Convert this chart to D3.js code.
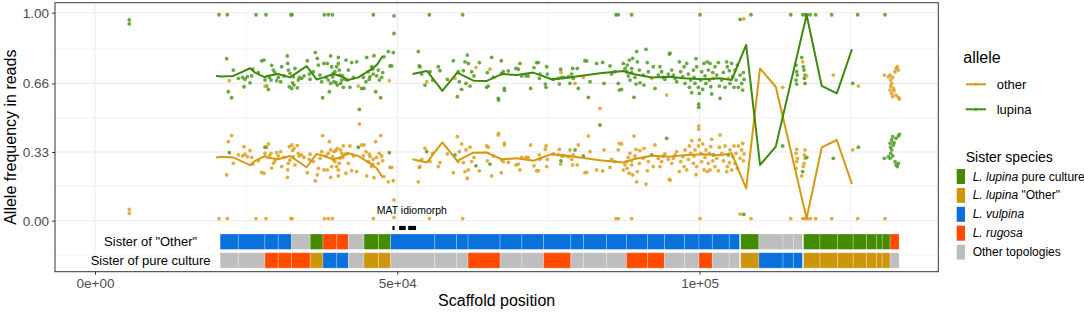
<!DOCTYPE html>
<html>
<head>
<meta charset="utf-8">
<script src="https://cdn.jsdelivr.net/npm/d3@7"></script>
<style>
  body { margin: 0; background: #fff; }
  svg text { font-family: "Liberation Sans", Arial, sans-serif; }
</style>
</head>
<body>
<div id="chart"></div>
<script>
// sites: [scaffold position, frequency of lupina allele]; "other" = 1 - lupina
const sites = [
  [5670,0.965],[5670,0.946],
  [20510,0.99],[21890,0.99],[26630,0.99],[28280,0.99],[32420,0.99],[32580,0.99],[37930,0.99],[38590,0.99],
  [39250,0.99],[46030,0.99],[49450,0.985],[55300,0.99],[60810,0.99],[86170,0.99],[86550,0.99],[88760,0.99],
  [100070,0.99],[108500,0.99],[115070,0.99],[117050,0.99],[117440,0.99],[117800,0.99],[118300,0.99],
  [119200,0.99],[121850,0.99],[126150,0.99],[130670,0.99],
  [49450,0.90],[106700,0.968],[107300,0.03],
  [21780,.779],[22880,.724],[22220,.327],[22050,.620],[22600,.591],[23710,.684],[24420,.689],[24640,.644],
  [25640,.663],[25910,.696],[26080,.728],[27570,.768],[27950,.772],[28120,.676],[28390,.647],[28670,.631],
  [28120,.353],[29220,.747],[29490,.724],[29770,.712],[30870,.740],[30710,.668],[31810,.792],[31870,.756],
  [31980,.724],[32250,.708],[32140,.644],[32530,.636],[32800,.692],[33080,.732],[33460,.639],[33630,.676],
  [34180,.684],[35120,.769],[35450,.705],[36440,.809],[36770,.780],[36940,.748],[37210,.700],[37490,.668],
  [37650,.591],[37870,.756],[38430,.756],[38760,.620],[38980,.792],[39140,.740],[39310,.692],[39530,.668],
  [39690,.716],[39970,.740],[40250,.785],[40250,.756],[40410,.724],[40520,.700],[40800,.676],[41070,.641],
  [41510,.772],[41900,.724],[42170,.641],[42450,.760],[43280,.764],[43550,.353],[44100,.636],[44490,.636],
  [43720,.535],[44930,.785],[45210,.716],[45480,.692],[45760,.740],[46030,.705],[46140,.793],[46420,.620],
  [46860,.724],[47250,.591],[47580,.712],[47800,.788],[48510,.813],[48790,.744],[49070,.744],[49340,.808],
  [48680,.327],
  [24810,.680],[25190,.692],[27010,.712],[28830,.689],[29110,.676],[30050,.673],[30320,.689],[31260,.696],
  [32690,.663],[32910,.652],[33800,.689],[34570,.696],[35560,.680],[36110,.716],[38210,.689],[38590,.676],
  [38980,.660],[39420,.708],[39860,.663],[40080,.652],[40630,.660],[40960,.696],[41350,.680],[41730,.676],
  [42730,.689],[44380,.689],[44820,.668],[45370,.680],[45920,.728],[46590,.696],[47030,.676],[47410,.689],
  [53470,.813],[53640,.744],[53750,.740],[54030,.705],[54580,.652],[55410,.716],[55850,.676],[56780,.740],
  [54860,.332],
  [57060,.721],[58270,.679],[59270,.769],[59540,.316],[59930,.596],[60090,.716],[60260,.668],[60640,.631],
  [60920,.721],[61190,.764],[61360,.660],[61580,.796],[61750,.756],[62020,.647],[62300,.716],[62680,.696],
  [63010,.264],[63570,.760],[64780,.641],[65050,.647],[64890,.712],[65330,.272],[65610,.785],[65880,.689],
  [66710,.588],[66750,.580],[67200,.769],[67260,.708],[67530,.716],[67700,.636],[67720,.627],[68360,.720],
  [69630,.732],[70010,.728],[70290,.756],[70570,.696],[71280,.696],[71670,.696],[72050,.636],[72610,.736],
  [73050,.760],[73320,.760],[73490,.684],[73600,.705],[74700,.740],[74810,.705],[74480,.657],[74590,.641],
  [75800,.679],[76630,.684],[76800,.657],[77020,.728],[77070,.288],[77180,.689],[77570,.689],[78290,.692],
  [78560,.660],[78840,.705],[79000,.732],[79110,.684],[79390,.340],[79770,.732],[79940,.636],[80770,.311],
  [81040,.769],[81320,.768],[81590,.593],[81870,.668],[82970,.756],[83520,.46],[83960,.761],[84180,.660],
  [85180,.744],[85450,.705],[86000,.716],[86550,.660],[86720,.628],[87100,.631],[87380,.756],[87660,.732],
  [87930,.716],[88040,.748],[88210,.696],[88370,.772],[88480,.676],[88760,.732],[88760,.712],[88930,.780],
  [89150,.593],[89310,.689],[89480,.657],[89590,.813],[89700,.764],[90030,.724],[90140,.663],[90690,.700],
  [90800,.652],[91130,.824],[91350,.760],[91520,.716],[92070,.316],[92340,.740],[92620,.636],[93170,.700],
  [93440,.740],[93720,.716],[94000,.689],[94270,.679],[94550,.396],[94990,.801],[94820,.705],
  [95110,.805],[95390,.724],[95660,.700],[95940,.684],[96210,.668],[96650,.764],[96870,.716],[97210,.692],
  [97430,.740],[97590,.660],[97870,.756],[98140,.705],[98310,.641],[98530,.676],[98690,.615],[98970,.724],
  [99080,.689],[99240,.660],[99410,.779],[99520,.740],[99800,.641],[99850,.560],[99850,.545],[99960,.612],
  [100180,.676],[100350,.716],[100510,.631],[100730,.756],[100900,.696],[101060,.660],[101280,.764],
  [101450,.724],[101620,.676],[101730,.756],[101840,.644],[102000,.609],[102170,.712],[102280,.316],
  [102550,.740],[102830,.700],[103100,.760],[103270,.647],[103380,.588],[103660,.676],[103930,.712],
  [104210,.641],[104480,.764],[104590,.740],[104760,.316],[104920,.721],[105030,.660],[105310,.756],
  [105470,.692],[105690,.641],[105860,.724],[106030,.676],[106250,.748],[106410,.641],[106690,.700],
  [106960,.660],[107130,.628],[107240,.712],[107350,.679],
  [113740,.359],
  [115950,.748],[116060,.716],[116170,.700],[115950,.676],[116060,.657],[116890,.785],[117050,.236],
  [117160,.740],[117270,.724],[117440,.700],[117330,.684],[117440,.660],[117710,.304],
  [122120,.30],[125320,.66],[126260,.353],
  [130560,.30],[131220,.308],[131500,.30],[131600,.324],[131770,.34],[131940,.311],[132050,.364],
  [132320,.284],[132490,.268],[132710,.26],[132880,.276],[131770,.388],[132160,.375],[131940,.404],
  [132490,.396],[132880,.407],[133040,.415],[131600,.353],[131500,.372]
];

// windowed mean of the lupina allele; two runs with a gap at the MAT locus
const lineSegments = [
  [[20000,.696],[20960,.693],[22880,.696],[24100,.712],[25640,.733],[26460,.712],[28120,.689],[28400,.696],
   [30300,.705],[32250,.689],[35000,.743],[36660,.679],[37880,.689],[39420,.705],[40520,.696],[41900,.676],
   [43550,.689],[45490,.724],[46590,.748],[47590,.792]],
  [[52500,.705],[54900,.72],[57450,.624],[59900,.712],[62600,.673],[64800,.672],[67300,.705],[69750,.70],
   [72500,.712],[75500,.68],[77500,.685],[80200,.696],[83500,.709],[87400,.72],[89000,.705],[92100,.688],
   [95100,.692],[97300,.685],[100600,.68],[103400,.685],[105300,.676],[107700,.845],[110000,.268],
   [112600,.356],[117700,.989],[120200,.648],[122700,.612],[125200,.824]]
];

// phylogenetic windows: [start, end, sister of "Other", sister of pure culture]
const windows = [
  [20700,23700,"vulpina","other"],[23700,28100,"vulpina","other"],[28100,30300,"vulpina","rugosa"],
  [30300,32500,"vulpina","rugosa"],[32500,35600,"other","rugosa"],[35600,37700,"pure","lupOther"],
  [37700,40000,"rugosa","vulpina"],[40000,41900,"rugosa","vulpina"],[41900,44500,"other","other"],
  [44500,46900,"pure","lupOther"],[46900,48900,"pure","lupOther"],[48900,56200,"vulpina","other"],
  [56200,59800,"vulpina","other"],[59800,61700,"vulpina","other"],[61700,67000,"vulpina","rugosa"],
  [67000,70600,"vulpina","other"],[70600,74200,"vulpina","other"],[74200,78700,"vulpina","rugosa"],
  [78700,80800,"vulpina","other"],[80800,84600,"vulpina","other"],[84600,87900,"vulpina","other"],
  [87900,91400,"vulpina","rugosa"],[91400,94200,"vulpina","rugosa"],[94200,97500,"vulpina","other"],
  [97500,99900,"vulpina","other"],[99900,102100,"vulpina","rugosa"],[102100,104900,"vulpina","other"],
  [104900,106600,"vulpina","other"],[106800,109800,"pure","lupOther"],[109800,113800,"other","vulpina"],
  [113800,115500,"other","vulpina"],[115500,117000,"other","vulpina"],[117200,119900,"pure","lupOther"],
  [119900,122800,"pure","lupOther"],[122800,125400,"pure","lupOther"],[125400,127600,"pure","lupOther"],
  [127600,129300,"pure","lupOther"],[129300,130200,"pure","lupOther"],[130200,131500,"pure","lupOther"],
  [131500,133000,"rugosa","other"]
];

const matSegments = [[49200,49550],[50300,51400],[51800,53100]];

const rowLabels = ['Sister of "Other"', "Sister of pure culture"];
const yTicks = [0, 0.33, 0.66, 1];
const xTicks = [0, 50000, 100000];
const alleles = ["other", "lupina"];
const speciesKeys = ["pure", "lupOther", "vulpina", "rugosa", "other"];
const speciesLabels = [
  ["L. lupina", " pure culture"], ["L. lupina", " \"Other\""], ["L. vulpina", ""], ["L. rugosa", ""], ["", "Other topologies"]
];

const width = 1084, height = 315;
const panel = {left: 55, right: 938.3, top: 2.7, bottom: 271.7};

const svg = d3.select("#chart").append("svg")
  .attr("width", width).attr("height", height);

svg.append("rect").attr("width", width).attr("height", height).attr("fill", "#fff");

const x = d3.scaleLinear().domain([-6616, 139480]).range([panel.left, panel.right]);
const y = d3.scaleLinear().domain([-0.2452, 1.048]).range([panel.bottom, panel.top]);

const alleleColor = d3.scaleOrdinal().domain(alleles).range(["#D6980F", "#3D890B"]);
const pointColor = d3.scaleOrdinal().domain(alleles).range(["#DDA020", "#519A24"]);
const fillColor = d3.scaleOrdinal().domain(speciesKeys)
  .range(["#458B00", "#CD950C", "#0A70DC", "#FF4B00", "#BEBEBE"]);

// grid
const grid = svg.append("g");
const yMinor = [-0.165, 0.165, 0.495, 0.825];
const xMinor = [25000, 75000, 125000];
grid.selectAll(".ymin").data(yMinor).join("line")
  .attr("x1", panel.left).attr("x2", panel.right)
  .attr("y1", d => y(d)).attr("y2", d => y(d))
  .attr("stroke", "#EBEBEB").attr("stroke-width", 0.6);
grid.selectAll(".xmin").data(xMinor).join("line")
  .attr("y1", panel.top).attr("y2", panel.bottom)
  .attr("x1", d => x(d)).attr("x2", d => x(d))
  .attr("stroke", "#EBEBEB").attr("stroke-width", 0.6);
grid.selectAll(".ymaj").data(yTicks).join("line")
  .attr("x1", panel.left).attr("x2", panel.right)
  .attr("y1", d => y(d)).attr("y2", d => y(d))
  .attr("stroke", "#EBEBEB").attr("stroke-width", 1.1);
grid.selectAll(".xmaj").data(xTicks).join("line")
  .attr("y1", panel.top).attr("y2", panel.bottom)
  .attr("x1", d => x(d)).attr("x2", d => x(d))
  .attr("stroke", "#EBEBEB").attr("stroke-width", 1.1);

// tile rows
const rowCenter = [-0.101, -0.191], rowHalf = 0.037;
const tiles = svg.append("g");
[0, 1].forEach(r => {
  tiles.selectAll(".r" + r).data(windows).join("rect")
    .attr("x", d => x(d[0]))
    .attr("width", d => x(d[1]) - x(d[0]))
    .attr("y", y(rowCenter[r] + rowHalf))
    .attr("height", y(rowCenter[r] - rowHalf) - y(rowCenter[r] + rowHalf))
    .attr("fill", d => fillColor(d[2 + r]))
    .attr("stroke", "rgba(255,255,255,0.3)")
    .attr("stroke-width", 0.8);
});

svg.append("g").selectAll("text").data(rowLabels).join("text")
  .attr("x", x(9200))
  .attr("y", (d, i) => y(rowCenter[i]))
  .attr("text-anchor", "middle")
  .attr("dominant-baseline", "central")
  .attr("font-size", 13)
  .text(d => d);

// MAT idiomorph
svg.append("g").selectAll("rect").data(matSegments).join("rect")
  .attr("x", d => x(d[0])).attr("width", d => x(d[1]) - x(d[0]))
  .attr("y", y(-0.025)).attr("height", y(-0.045) - y(-0.025))
  .attr("fill", "#000");
svg.append("text")
  .attr("x", x(52400)).attr("y", y(0.052))
  .attr("text-anchor", "middle").attr("dominant-baseline", "central")
  .attr("font-size", 10.5)
  .text("MAT idiomorph");

// points
const pts = [];
sites.forEach(s => {
  pts.push({pos: s[0], f: 1 - s[1], allele: "other"});
  pts.push({pos: s[0], f: s[1], allele: "lupina"});
});
svg.append("g").selectAll("circle").data(pts).join("circle")
  .attr("cx", d => x(d.pos)).attr("cy", d => y(d.f)).attr("r", 1.9)
  .attr("fill", d => pointColor(d.allele)).attr("fill-opacity", 0.85);

// lines
const line = d3.line().x(d => x(d[0])).y(d => y(d[1]));
alleles.forEach(a => {
  lineSegments.forEach(seg => {
    const data = a === "lupina" ? seg : seg.map(d => [d[0], 1 - d[1]]);
    svg.append("path").datum(data)
      .attr("d", line)
      .attr("fill", "none")
      .attr("stroke", alleleColor(a))
      .attr("stroke-width", 2)
      .attr("stroke-linejoin", "round");
  });
});

// panel border
svg.append("rect")
  .attr("x", panel.left).attr("y", panel.top)
  .attr("width", panel.right - panel.left).attr("height", panel.bottom - panel.top)
  .attr("fill", "none").attr("stroke", "#333").attr("stroke-width", 1);

// axes
const sciFormat = d => {
  if (d === 0) return "0e+00";
  const [m, e] = d3.format(".0e")(d).split("e");
  return m + "e" + e[0] + e.slice(1).padStart(2, "0");
};
const yAxis = svg.append("g").attr("transform", `translate(${panel.left},0)`)
  .call(d3.axisLeft(y).tickValues(yTicks).tickFormat(d3.format(".2f")).tickSize(3).tickPadding(3));
const xAxis = svg.append("g").attr("transform", `translate(0,${panel.bottom})`)
  .call(d3.axisBottom(x).tickValues(xTicks).tickFormat(sciFormat).tickSize(3).tickPadding(4));
[yAxis, xAxis].forEach(ax => {
  ax.select(".domain").remove();
  ax.selectAll(".tick line").attr("stroke", "#333");
  ax.selectAll(".tick text").attr("fill", "#4D4D4D").attr("font-size", 13.5)
    .attr("font-family", "Liberation Sans, Arial, sans-serif");
});

svg.append("text")
  .attr("transform", `translate(10,${(panel.top + panel.bottom) / 2}) rotate(-90)`)
  .attr("text-anchor", "middle").attr("dominant-baseline", "central")
  .attr("font-size", 16).text("Allele frequency in reads");
svg.append("text")
  .attr("x", (panel.left + panel.right) / 2).attr("y", 300)
  .attr("text-anchor", "middle").attr("dominant-baseline", "central")
  .attr("font-size", 16).text("Scaffold position");

// legend: allele
const lg1 = svg.append("g");
lg1.append("text").attr("x", 963.3).attr("y", 57).attr("dominant-baseline", "central")
  .attr("font-size", 16).text("allele");
alleles.forEach((a, i) => {
  const cy = 84.3 + i * 25;
  lg1.append("line").attr("x1", 965.7).attr("x2", 986).attr("y1", cy).attr("y2", cy)
    .attr("stroke", alleleColor(a)).attr("stroke-width", 2);
  lg1.append("circle").attr("cx", 975.8).attr("cy", cy).attr("r", 1.6)
    .attr("fill", pointColor(a));
  lg1.append("text").attr("x", 996.7).attr("y", cy).attr("dominant-baseline", "central")
    .attr("font-size", 13).text(a);
});

// legend: sister species
const lg2 = svg.append("g");
lg2.append("text").attr("x", 965.7).attr("y", 157).attr("dominant-baseline", "central")
  .attr("font-size", 14).text("Sister species");
speciesKeys.forEach((k, i) => {
  const top = 169 + i * 18.9;
  lg2.append("rect").attr("x", 956.7).attr("y", top).attr("width", 8.3).attr("height", 15)
    .attr("fill", fillColor(k));
  const t = lg2.append("text").attr("x", 972.7).attr("y", top + 7.5)
    .attr("dominant-baseline", "central").attr("font-size", 12);
  if (speciesLabels[i][0]) t.append("tspan").attr("font-style", "italic").text(speciesLabels[i][0]);
  if (speciesLabels[i][1]) t.append("tspan").text(speciesLabels[i][1]);
});
</script>
</body>
</html>
